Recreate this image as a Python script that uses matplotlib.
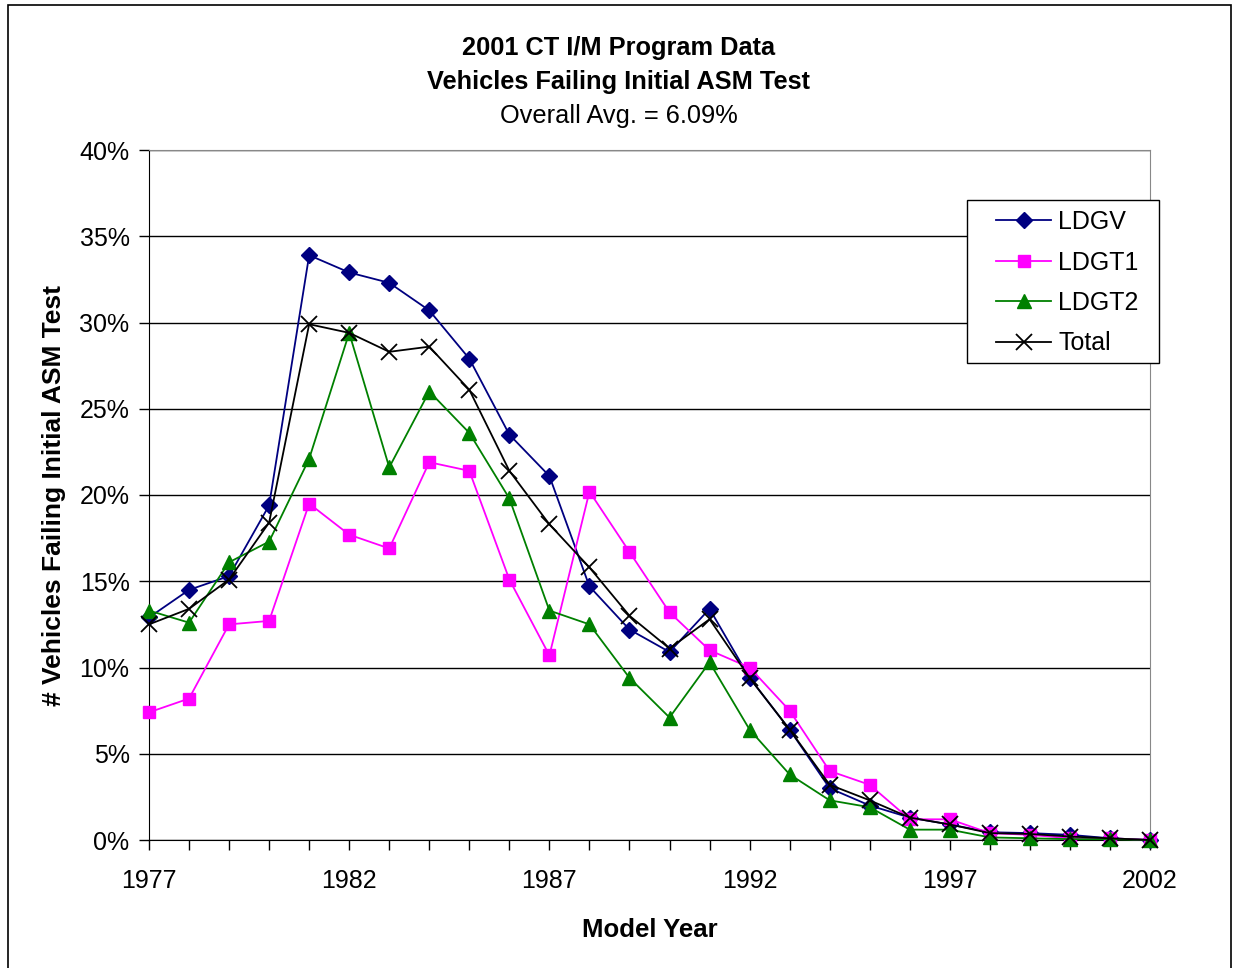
import matplotlib
matplotlib.use('Agg')
from matplotlib import pyplot as plt
from matplotlib.patches import Rectangle
from matplotlib.ticker import FixedLocator, FuncFormatter

plt.rcParams['font.family'] = ['Liberation Sans', 'DejaVu Sans']

years = list(range(1977, 2003))
ldgv = [12.9, 14.5, 15.3, 19.4, 33.9, 32.9, 32.3, 30.7, 27.9, 23.5, 21.1, 14.7, 12.2,
        10.9, 13.4, 9.4, 6.4, 3.0, 2.0, 1.3, 0.9, 0.45, 0.4, 0.3, 0.1, 0.0]
ldgt1 = [7.4, 8.2, 12.5, 12.7, 19.5, 17.7, 16.9, 21.9, 21.4, 15.1, 10.7, 20.2, 16.7,
         13.2, 11.0, 10.0, 7.5, 4.0, 3.2, 1.2, 1.2, 0.4, 0.3, 0.1, 0.1, 0.0]
ldgt2 = [13.3, 12.6, 16.1, 17.3, 22.1, 29.4, 21.6, 26.0, 23.6, 19.8, 13.3, 12.5, 9.4,
         7.1, 10.3, 6.4, 3.8, 2.3, 1.9, 0.6, 0.6, 0.15, 0.1, 0.05, 0.05, 0.0]
total = [12.5, 13.4, 15.1, 18.4, 29.9, 29.4, 28.3, 28.6, 26.1, 21.4, 18.3, 15.8, 13.0,
         11.1, 12.8, 9.4, 6.4, 3.2, 2.3, 1.3, 0.9, 0.4, 0.35, 0.2, 0.1, 0.0]
year_labels = [1977, 1982, 1987, 1992, 1997, 2002]

fig = plt.figure(figsize=(12.33, 9.68), dpi=100)
ax = fig.add_axes([149/1233, 1 - 840/968, (1150-149)/1233, (840-150)/968])

ax.plot(years, ldgv, color='#000080', marker='D', markersize=8, lw=1.3, label='LDGV', clip_on=False, zorder=3)
ax.plot(years, ldgt1, color='#FF00FF', marker='s', markersize=9, lw=1.3, label='LDGT1', clip_on=False, zorder=3)
ax.plot(years, ldgt2, color='#008000', marker='^', markersize=10, lw=1.3, label='LDGT2', clip_on=False, zorder=3)
ax.plot(years, total, color='black', marker='x', markersize=11, mew=1.3, lw=1.3, label='Total', clip_on=False, zorder=4)

ax.set_xlim(1977, 2002)
ax.set_ylim(0, 40)
ax.xaxis.set_major_locator(FixedLocator(years))
ax.xaxis.set_major_formatter(FuncFormatter(lambda v, p: str(int(v)) if int(round(v)) in year_labels else ''))
ax.set_yticks(range(0, 41, 5))
ax.yaxis.set_major_formatter(FuncFormatter(lambda v, p: '%d%%' % v))
ax.tick_params(direction='out', length=7, width=1, labelsize=18)
ax.tick_params(axis='x', pad=14)
ax.tick_params(axis='y', pad=7)
ax.grid(axis='y', color='black', lw=1)
ax.set_axisbelow(True)
for s in ['top', 'right']:
    ax.spines[s].set_color('#888888')
for s in ['left', 'bottom']:
    ax.spines[s].set_color('black')

ax.set_xlabel('Model Year', fontsize=18.5, fontweight='bold', labelpad=18)
ax.set_ylabel('# Vehicles Failing Initial ASM Test', fontsize=19, fontweight='bold', labelpad=10)

# legend content without frame, frame drawn separately
leg = ax.legend(loc='upper left', bbox_to_anchor=((996-149)/1001, (840-210)/690), fontsize=18,
                frameon=False, handlelength=2.2, borderpad=0, borderaxespad=0,
                labelspacing=0.66, handletextpad=0.3)
ax.add_patch(Rectangle(((967-149)/1001, (840-363)/690), 192/1001, 163/690, transform=ax.transAxes,
                       facecolor='white', edgecolor='black', lw=1, zorder=5, clip_on=False))
leg.set_zorder(6)

fig.text(0.502, 1 - 48/968, '2001 CT I/M Program Data', ha='center', va='center', fontsize=18.3, fontweight='bold')
fig.text(0.502, 1 - 82/968, 'Vehicles Failing Initial ASM Test', ha='center', va='center', fontsize=18.3, fontweight='bold')
fig.text(0.502, 1 - 116/968, 'Overall Avg. = 6.09%', ha='center', va='center', fontsize=18.3)

fig.patches.append(Rectangle((8/1233, -0.01), 1223/1233, 1 - 5/968 + 0.01, transform=fig.transFigure,
                             fill=False, edgecolor='black', lw=1.2))

fig.savefig('out.png', dpi=100)
